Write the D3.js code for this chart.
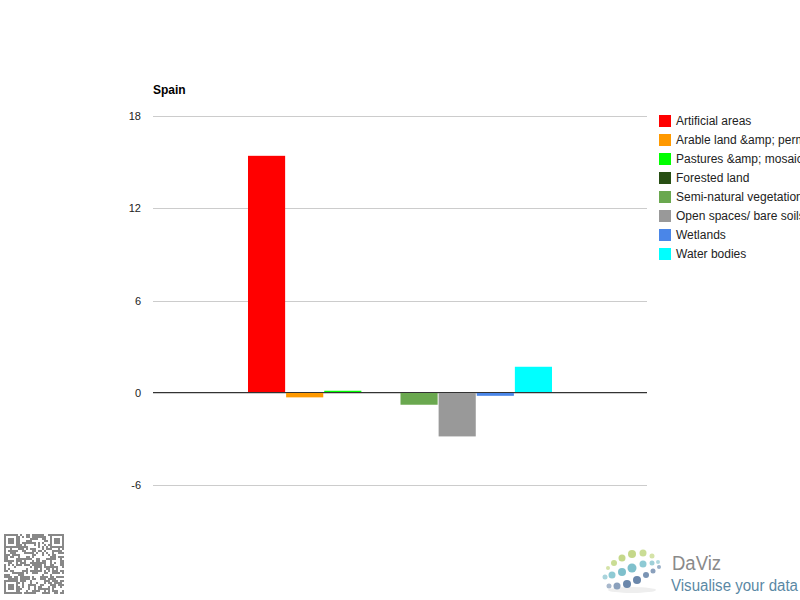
<!DOCTYPE html>
<html><head><meta charset="utf-8">
<script src="https://cdn.jsdelivr.net/npm/d3@7"></script>
<style>body{margin:0;background:#fff;overflow:hidden}svg{display:block;font-family:Arial,"Liberation Sans",sans-serif}</style>
</head><body><svg id="c" width="800" height="600"></svg>
<script>
const title = "Spain";
const category = ["Spain"];
const seriesNames = ["Artificial areas","Arable land &amp; permanent crops","Pastures &amp; mosaics","Forested land","Semi-natural vegetation","Open spaces/ bare soils","Wetlands","Water bodies"];
const seriesColors = ["#ff0000","#ff9900","#00ff00","#274e13","#6aa84f","#999999","#4a86e8","#00ffff"];
const values = [15.41, -0.3, 0.13, 0, -0.78, -2.84, -0.2, 1.69];
const yTicks = [-6, 0, 6, 12, 18];

const svg = d3.select("#c");
const L = 153, R = 647, T = 116, B = 485;
const y = d3.scaleLinear().domain([-6, 18]).range([B, T]);
const x0 = d3.scaleBand().domain(category).range([L, R]).paddingInner(0).paddingOuter(0.3125);
const x1 = d3.scaleBand().domain(seriesNames).range([0, x0.bandwidth()]).paddingInner(0.026);

// grid
const yAxis = d3.axisLeft(y).tickValues(yTicks).tickSize(-(R - L)).tickFormat(d => String(d));
const ga = svg.append("g").attr("transform", `translate(${L},0)`).call(yAxis);
ga.select(".domain").remove();
ga.selectAll(".tick line").attr("stroke", "#cccccc").attr("shape-rendering", "crispEdges");
ga.selectAll(".tick text").attr("x", -12).attr("fill", "#222").style("font-size", "11px").style("font-family", "Arial, 'Liberation Sans', sans-serif");

// bars
const g = svg.append("g");
category.forEach(c => {
  g.selectAll("rect.b").data(values).enter().append("rect")
    .attr("x", (d, i) => x0(c) + x1(seriesNames[i]))
    .attr("width", x1.bandwidth())
    .attr("y", d => y(Math.max(0, d)))
    .attr("height", d => Math.abs(y(d) - y(0)))
    .attr("fill", (d, i) => seriesColors[i]);
});

// zero line
svg.append("line").attr("x1", L).attr("x2", R).attr("y1", y(0)).attr("y2", y(0))
  .attr("stroke", "#333").attr("stroke-width", 1).attr("shape-rendering", "crispEdges");

// title
svg.append("text").attr("x", L).attr("y", 94).text(title)
  .style("font-size", "12px").style("font-weight", "bold").attr("fill", "#000");

// legend
const lg = svg.append("g");
seriesNames.forEach((s, i) => {
  const yy = 115 + i * 19;
  lg.append("rect").attr("x", 659).attr("y", yy).attr("width", 12).attr("height", 12).attr("fill", seriesColors[i]);
  lg.append("text").attr("x", 676).attr("y", yy + 10).text(s).style("font-size", "12px").attr("fill", "#222");
});

// QR-like decoration
const qr = svg.append("g").attr("transform", "translate(4,534)");
let seed = 7;
function rnd(){ seed = (seed * 16807) % 2147483647; return seed / 2147483647; }
const n = 30, cs = 2;
for (let r = 0; r < n; r++) for (let cc = 0; cc < n; cc++) {
  const inFinder = (r < 7 && cc < 7) || (r < 7 && cc >= n - 7) || (r >= n - 7 && cc < 7);
  let on;
  if (inFinder) {
    const rr = r < 7 ? r : r - (n - 7);
    const c2 = cc < 7 ? cc : cc - (n - 7);
    const ring = Math.max(Math.abs(rr - 3), Math.abs(c2 - 3));
    on = ring === 3 || ring <= 1;
  } else on = rnd() > 0.5;
  if (on) qr.append("rect").attr("x", cc * cs).attr("y", r * cs).attr("width", cs).attr("height", cs).attr("fill", "#888");
}

// DaViz logo decoration
const lgo = svg.append("g");
lgo.append("ellipse").attr("cx", 632).attr("cy", 590).attr("rx", 24).attr("ry", 3).attr("fill", "#eeeeee");
const dots = [
  [608,568,2,"#d5e3a8"],[614,563,3,"#cadd95"],[622,558,3.5,"#c5d88a"],[632,554,4,"#c5d88a"],[643,553,3.5,"#cadd95"],[652,556,2.5,"#d5e3a8"],
  [605,577,2.5,"#a9d4dc"],[612,575,3.5,"#8ecad4"],[622,572,4,"#7fc0cc"],[632,568,4.5,"#7fc0cc"],[643,564,3.5,"#8ecad4"],[652,563,2.5,"#9fd0d8"],[658,562,2,"#b0d8de"],
  [609,586,2.5,"#a8b8cc"],[617,586,3.5,"#8aa0bc"],[627,584,4,"#6a87ab"],[637,580,4,"#6a87ab"],[646,575,3,"#7a94b4"],[653,571,2.5,"#8aa0bc"],[659,567,2,"#9ab0c8"]];
dots.forEach(d => lgo.append("circle").attr("cx", d[0]).attr("cy", d[1]).attr("r", d[2]).attr("fill", d[3]));
lgo.append("text").attr("x", 672).attr("y", 570).text("DaViz").style("font-size", "20px")
  .attr("textLength", 49).attr("lengthAdjust", "spacingAndGlyphs").attr("fill", "#8a8a8a");
lgo.append("text").attr("x", 671).attr("y", 591).text("Visualise your data").style("font-size", "16px")
  .attr("textLength", 127).attr("lengthAdjust", "spacingAndGlyphs").attr("fill", "#5a88a4");
</script></body></html>
